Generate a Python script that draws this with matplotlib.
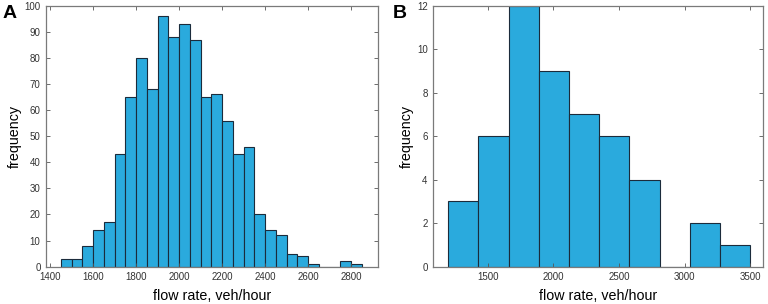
import numpy as np
import matplotlib
matplotlib.use('Agg')
import matplotlib.pyplot as plt

# panel A: flow-rate histogram, 28 bins of 50 veh/hour
counts_a = [3, 3, 8, 14, 17, 43, 65, 80, 68, 96, 88, 93, 87, 65, 66, 56,
            43, 46, 20, 14, 12, 5, 4, 1, 0, 0, 2, 1]
start_a, width_a = 1450, 50
xticks_a = [1400, 1600, 1800, 2000, 2200, 2400, 2600, 2800]
yticks_a = [0, 10, 20, 30, 40, 50, 60, 70, 80, 90, 100]

# panel B: 10 bins of 230 veh/hour
counts_b = [3, 6, 12, 9, 7, 6, 4, 0, 2, 1]
start_b, width_b = 1200, 230
xticks_b = [1500, 2000, 2500, 3000, 3500]
yticks_b = [0, 2, 4, 6, 8, 10, 12]

plt.rcParams['font.family'] = ['Liberation Sans', 'DejaVu Sans']

fig = plt.figure(figsize=(7.68, 3.04), dpi=100)
ax_a = fig.add_axes([0.060, 0.123, 0.432, 0.858])
ax_b = fig.add_axes([0.564, 0.123, 0.430, 0.858])

bar_color = '#2aaadd'
edge_color = '#1b2b3b'


def draw_hist(ax, counts, start, width, xlim, xticks, yticks):
    edges = start + width * np.arange(len(counts))
    ax.bar(edges, counts, width=width, align='edge', color=bar_color,
           edgecolor=edge_color, linewidth=0.8)
    ax.set_xlim(*xlim)
    ax.set_ylim(yticks[0], yticks[-1])
    ax.set_xticks(xticks)
    ax.set_yticks(yticks)
    ax.tick_params(direction='in', length=3, width=0.6, color='#555555',
                   labelsize=7, labelcolor='#333333', top=True, right=True,
                   pad=4)
    for s in ax.spines.values():
        s.set_color('#7a7a7a')
        s.set_linewidth(0.9)
    ax.set_xlabel('flow rate, veh/hour', fontsize=10.3, labelpad=5)
    ax.set_ylabel('frequency', fontsize=10.3, labelpad=2)


draw_hist(ax_a, counts_a, start_a, width_a, (1381, 2924), xticks_a, yticks_a)
draw_hist(ax_b, counts_b, start_b, width_b, (1085, 3600), xticks_b, yticks_b)

fig.text(0.003, 0.985, 'A', fontsize=14, fontweight='bold', va='top')
fig.text(0.512, 0.985, 'B', fontsize=14, fontweight='bold', va='top')

fig.savefig('out.png', dpi=100)
